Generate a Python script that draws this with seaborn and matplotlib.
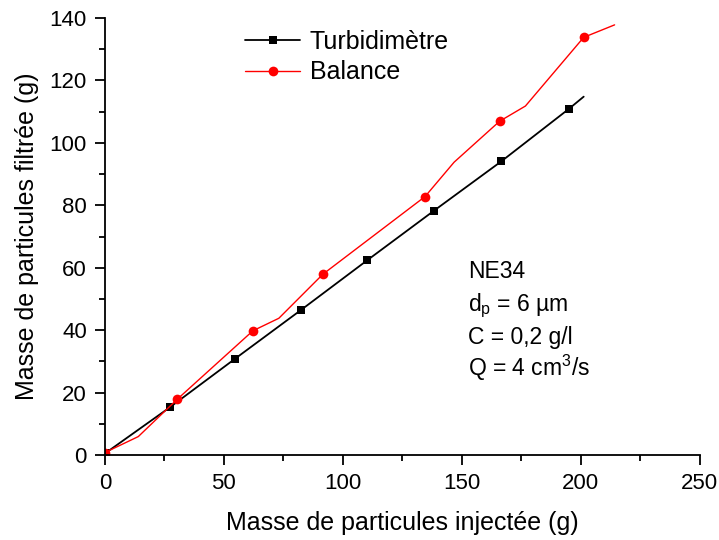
import matplotlib
matplotlib.use("Agg")
import matplotlib.pyplot as plt
from matplotlib.lines import Line2D
from matplotlib.ticker import MultipleLocator
import seaborn as sns

# Data
turb_x = [0, 27.5, 54.8, 82.5, 110.3, 138.4, 166.7, 195.1, 201.3]
turb_y = [0.5, 15.4, 30.9, 46.5, 62.4, 78.3, 94.1, 110.9, 114.8]
turb_marked = [0, 1, 2, 3, 4, 5, 6, 7]

bal_x = [0, 14, 30.3, 62.2, 73.1, 91.6, 134.6, 146.8, 165.9, 176.8, 201.3, 214.3]
bal_y = [0.8, 5.9, 17.8, 39.8, 43.8, 57.9, 82.8, 93.8, 106.9, 111.8, 133.8, 137.8]
bal_marked = [0, 2, 3, 5, 6, 8, 10]

series_names = ["Turbidimètre", "Balance"]
annot_lines = ["NE34", r"d$_\mathregular{p}$ = 6 µm", "C = 0,2 g/l", r"Q = 4 cm$^\mathregular{3}$/s"]

sns.set_style("ticks")
plt.rcParams['font.family'] = ['Liberation Sans', 'DejaVu Sans']
plt.rcParams['mathtext.fontset'] = 'custom'
plt.rcParams['mathtext.rm'] = 'Liberation Sans'
plt.rcParams['text.color'] = 'black'
plt.rcParams['axes.labelcolor'] = 'black'
plt.rcParams['xtick.color'] = 'black'
plt.rcParams['ytick.color'] = 'black'

W, H = 719, 540
fig = plt.figure(figsize=(W / 100, H / 100), dpi=100)
x0, x1, y0, y1 = 105, 699.5, 455, 18
ax = fig.add_axes([x0 / W, 1 - y0 / H, (x1 - x0) / W, (y0 - y1) / H])

sns.lineplot(x=turb_x, y=turb_y, ax=ax, color="black", linewidth=1.3,
             marker="s", markersize=6, markevery=turb_marked,
             markeredgewidth=0, estimator=None, sort=False)
sns.lineplot(x=bal_x, y=bal_y, ax=ax, color="#ff0000", linewidth=1.0,
             marker="o", markersize=7, markevery=bal_marked,
             markeredgewidth=0, estimator=None, sort=False)

ax.set_xlim(0, 250)
ax.set_ylim(0, 140)
ax.xaxis.set_major_locator(MultipleLocator(50))
ax.xaxis.set_minor_locator(MultipleLocator(25))
ax.yaxis.set_major_locator(MultipleLocator(20))
ax.yaxis.set_minor_locator(MultipleLocator(10))
ax.tick_params(which="major", direction="out", length=7, width=1.3, labelsize=16,
               colors="black", labelcolor="black", pad=6)
ax.tick_params(which="minor", direction="out", length=4, width=1.3, colors="black")
for s in ["left", "bottom"]:
    ax.spines[s].set_linewidth(1.3)
    ax.spines[s].set_color("black")
sns.despine(ax=ax)
ax.set_xlabel("Masse de particules injectée (g)", fontsize=18, labelpad=12, color="black")
ax.set_ylabel("Masse de particules filtrée (g)", fontsize=18, labelpad=8, color="black")

handles = [
    Line2D([0], [0], color="black", linewidth=1.3, marker="s", markersize=6, markeredgewidth=0),
    Line2D([0], [0], color="#ff0000", linewidth=1.0, marker="o", markersize=7, markeredgewidth=0),
]
ax.legend(handles, series_names, loc="upper left",
          bbox_to_anchor=((245 - x0) / (x1 - x0), (y0 - 30) / (y0 - y1)),
          frameon=False, fontsize=18, handlelength=2.2, handletextpad=0.4,
          labelspacing=0.25, borderpad=0, borderaxespad=0)

baselines = [278, 311, 344, 376]
for line, yb in zip(annot_lines, baselines):
    ax.text((468 - x0) / (x1 - x0), (y0 - yb) / (y0 - y1), line, transform=ax.transAxes,
            fontsize=16.5, va="baseline", ha="left", color="black")

fig.savefig("out.png", dpi=100)
